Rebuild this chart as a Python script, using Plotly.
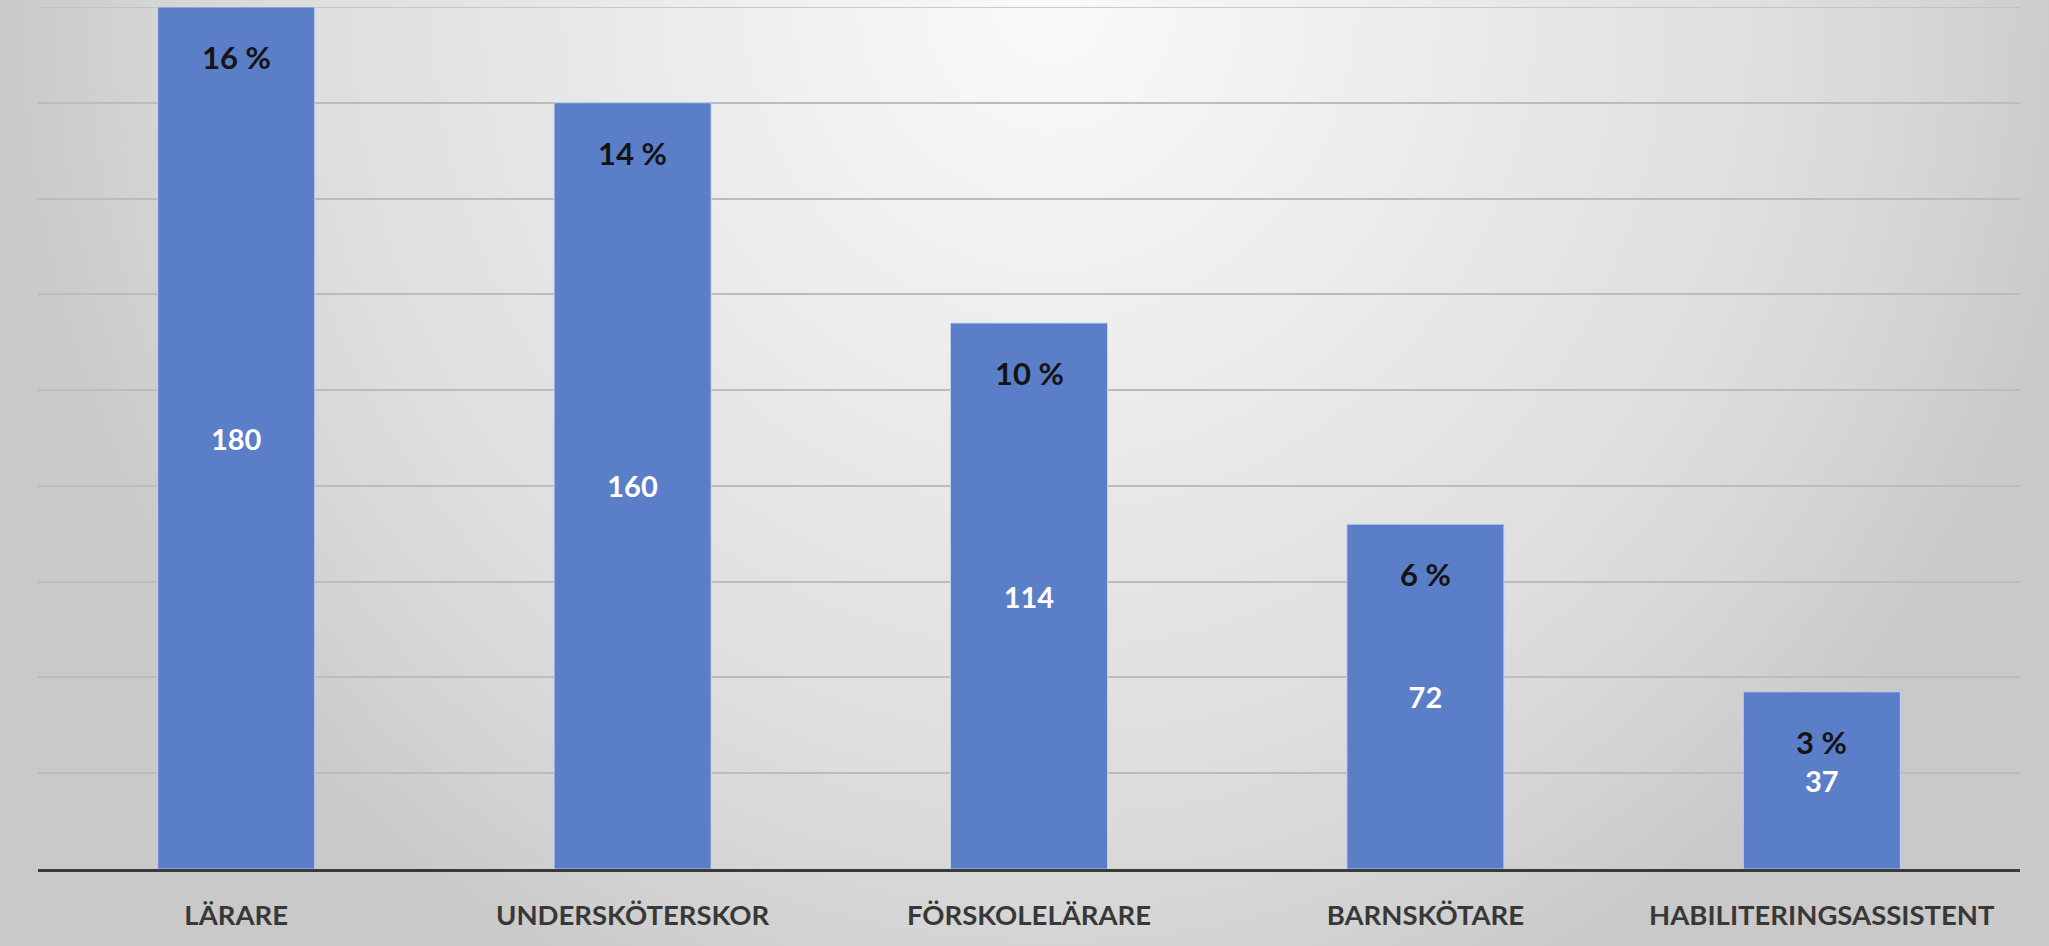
import base64
import plotly.graph_objects as go

# Antal anställda per yrkesgrupp och andel av totalen
yrken = ["LÄRARE", "UNDERSKÖTERSKOR", "FÖRSKOLELÄRARE", "BARNSKÖTARE", "HABILITERINGSASSISTENT"]
antal = [180, 160, 114, 72, 37]
andel = [16, 14, 10, 6, 3]
andel_text = [f"{p} %" for p in andel]

Y_MAX = 180
Y_STEP = 20

W, H = 2049, 946
M_L, M_R, M_T, M_B = 38, 29, 7, 77

# Radial grey background, light near the top centre
svg = f"""<svg xmlns="http://www.w3.org/2000/svg" width="{W}" height="{H}" viewBox="0 0 {W} {H}">
<defs>
<radialGradient id="g" gradientUnits="userSpaceOnUse" cx="1050" cy="0" r="1050"
 gradientTransform="matrix(1 0 0 1.05 0 0)">
<stop offset="0" stop-color="#fafafa"/>
<stop offset="0.25" stop-color="#f0f0f0"/>
<stop offset="0.5" stop-color="#e6e6e6"/>
<stop offset="0.7" stop-color="#dedede"/>
<stop offset="0.85" stop-color="#d5d5d5"/>
<stop offset="1" stop-color="#c9c9c9"/>
</radialGradient>
</defs>
<rect x="0" y="0" width="{W}" height="{H}" fill="url(#g)"/>
</svg>"""
bg_uri = "data:image/svg+xml;base64," + base64.b64encode(svg.encode()).decode()

pw = W - M_L - M_R
ph = H - M_T - M_B

fig = go.Figure()
fig.add_trace(go.Bar(
    x=yrken,
    y=antal,
    text=[str(v) for v in antal],
    textposition="inside",
    insidetextanchor="middle",
    textangle=0,
    textfont=dict(family="Lato", size=29, color="white", weight="bold"),
    marker=dict(color="#5a7ec8", line=dict(color="rgba(195,212,240,0.9)", width=1)),
    hoverinfo="skip",
))

for name, v, t in zip(yrken, antal, andel_text):
    fig.add_annotation(
        x=name, y=v, text=t, showarrow=False,
        yanchor="middle", yshift=-50,
        font=dict(family="Lato", size=31, color="#141414", weight="bold"),
    )

# Top gridline at the end of the value range
fig.add_shape(
    type="line", xref="paper", yref="y", x0=0, x1=1, y0=Y_MAX, y1=Y_MAX,
    line=dict(color="#bcbcbc", width=1.5), layer="below",
)

fig.add_layout_image(
    source=bg_uri, xref="paper", yref="paper",
    x=-M_L / pw, y=1 + M_T / ph,
    sizex=W / pw, sizey=H / ph,
    xanchor="left", yanchor="top",
    sizing="stretch", layer="below",
)

fig.update_layout(
    width=W, height=H,
    margin=dict(l=M_L, r=M_R, t=M_T, b=M_B),
    paper_bgcolor="rgba(0,0,0,0)",
    plot_bgcolor="rgba(0,0,0,0)",
    bargap=0.604,
    showlegend=False,
    xaxis=dict(
        showline=True, linecolor="#3a3a3a", linewidth=3,
        showgrid=False, ticks="", ticklabelstandoff=20,
        tickfont=dict(family="Lato", size=27.5, color="#383838", weight="bold"),
    ),
    yaxis=dict(
        range=[0, Y_MAX], dtick=Y_STEP, showticklabels=False,
        showgrid=True, gridcolor="#bcbcbc", gridwidth=1.5,
        zeroline=False, showline=False,
    ),
)

fig.write_html("out.html")
